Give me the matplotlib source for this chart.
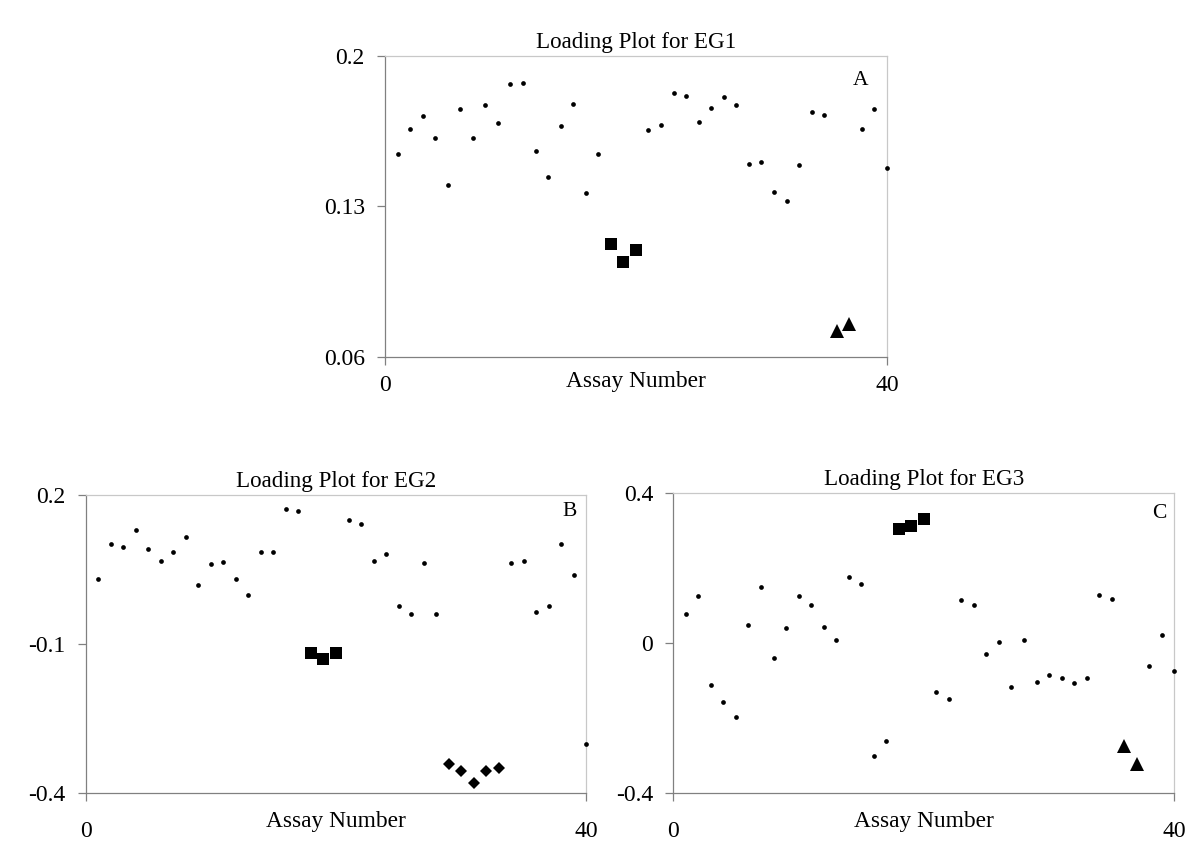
import matplotlib
matplotlib.use("Agg")
import matplotlib.pyplot as plt
import numpy as np

plt.rcParams['font.family'] = ['Liberation Serif', 'DejaVu Serif']

assay = list(range(1, 41))

# loadings, one value per assay
eg1 = [0.1546, 0.1661, 0.1721, 0.1620, 0.1398, 0.1754, 0.1620, 0.1771, 0.1686, 0.1871,
       0.1876, 0.1559, 0.1438, 0.1675, 0.1775, 0.1362, 0.1546, 0.1127, 0.1040, 0.1099,
       0.1655, 0.1681, 0.1828, 0.1816, 0.1692, 0.1757, 0.1811, 0.1772, 0.1498, 0.1506,
       0.1368, 0.1325, 0.1491, 0.1741, 0.1726, 0.0719, 0.0753, 0.1659, 0.1754, 0.1480]
eg2 = [0.0304, 0.1015, 0.0947, 0.1296, 0.0907, 0.0666, 0.0853, 0.1162, 0.0197, 0.0612,
       0.0646, 0.0304, -0.0011, 0.0853, 0.0853, 0.1719, 0.1685, -0.1184, -0.1305, -0.1173,
       0.1504, 0.1410, 0.0666, 0.0807, -0.0233, -0.0393, 0.0632, -0.0387, -0.3403, -0.3551,
       -0.3799, -0.3551, -0.3497, 0.0639, 0.0673, -0.0353, -0.0226, 0.1021, 0.0398, -0.3008]
eg3 = [0.0773, 0.1262, -0.1120, -0.1556, -0.1956, 0.0498, 0.1493, -0.0400, 0.0409, 0.1262,
       0.1031, 0.0436, 0.0089, 0.1769, 0.1591, -0.2996, -0.2596, 0.3040, 0.3129, 0.3316,
       -0.1298, -0.1484, 0.1156, 0.1022, -0.0293, 0.0027, -0.1173, 0.0080, -0.1040, -0.0853,
       -0.0924, -0.1049, -0.0924, 0.1298, 0.1173, -0.2729, -0.3227, -0.0613, 0.0213, -0.0738]

eg1_squares, eg1_triangles = [18, 19, 20], [36, 37]
eg2_squares, eg2_diamonds = [18, 19, 20], [29, 30, 31, 32, 33]
eg3_squares, eg3_triangles = [18, 19, 20], [36, 37]

yticks1 = [0.06, 0.13, 0.2]
yticks2 = [-0.4, -0.1, 0.2]
yticks3 = [-0.4, 0, 0.4]
ylabels1 = ['0.06', '0.13', '0.2']
ylabels2 = ['-0.4', '-0.1', '0.2']
ylabels3 = ['-0.4', '0', '0.4']

fig = plt.figure(figsize=(12, 8.6), dpi=100)
axA = fig.add_axes([0.3208, 0.5849, 0.4183, 0.3500])
axB = fig.add_axes([0.0714, 0.0776, 0.4172, 0.3468])
axC = fig.add_axes([0.5611, 0.0776, 0.4175, 0.3488])


def draw(ax, vals, groups, title, letter, yticks, ylabels, letter_xy, xlab_y, xpad):
    x = np.array(assay)
    v = np.array(vals)
    special = np.zeros(len(x), bool)
    for members, marker, ms in groups:
        idx = np.isin(x, members)
        special |= idx
        ax.plot(x[idx], v[idx], linestyle='none', marker=marker, ms=ms,
                color='black', mec='black', mew=0, clip_on=False, zorder=3)
    ax.plot(x[~special], v[~special], linestyle='none', marker='o', ms=3.4,
            color='black', mew=0, clip_on=False, zorder=3)
    ax.set_xlim(0, 40)
    ax.set_ylim(yticks[0], yticks[-1])
    ax.set_xticks([0, 40])
    ax.set_xticklabels(['0', '40'])
    ax.set_yticks(yticks)
    ax.set_yticklabels(ylabels)
    ax.tick_params(direction='out', length=6, width=0.9, color='#808080',
                   labelsize=17)
    ax.tick_params(axis='y', pad=8.5)
    ax.tick_params(axis='x', pad=xpad)
    for s in ['left', 'bottom']:
        ax.spines[s].set_color('#808080')
        ax.spines[s].set_linewidth(0.9)
    for s in ['top', 'right']:
        ax.spines[s].set_color('#c8c8c8')
        ax.spines[s].set_linewidth(0.9)
    ax.set_title(title, fontsize=16.6, pad=6)
    ax.set_xlabel('Assay Number', fontsize=16.8)
    ax.xaxis.set_label_coords(0.5, xlab_y)
    ax.text(letter_xy[0], letter_xy[1], letter, transform=ax.transAxes,
            ha='center', va='center', fontsize=15.5)


draw(axA, eg1, [(eg1_squares, 's', 9), (eg1_triangles, '^', 10)],
     'Loading Plot for EG1', 'A', yticks1, ylabels1, (0.948, 0.917), -0.045, 7)
draw(axB, eg2, [(eg2_squares, 's', 9), (eg2_diamonds, 'D', 6.6)],
     'Loading Plot for EG2', 'B', yticks2, ylabels2, (0.967, 0.944), -0.060, 14)
draw(axC, eg3, [(eg3_squares, 's', 9), (eg3_triangles, '^', 10)],
     'Loading Plot for EG3', 'C', yticks3, ylabels3, (0.970, 0.934), -0.060, 14)

fig.savefig('out.png', dpi=100, facecolor='white')
